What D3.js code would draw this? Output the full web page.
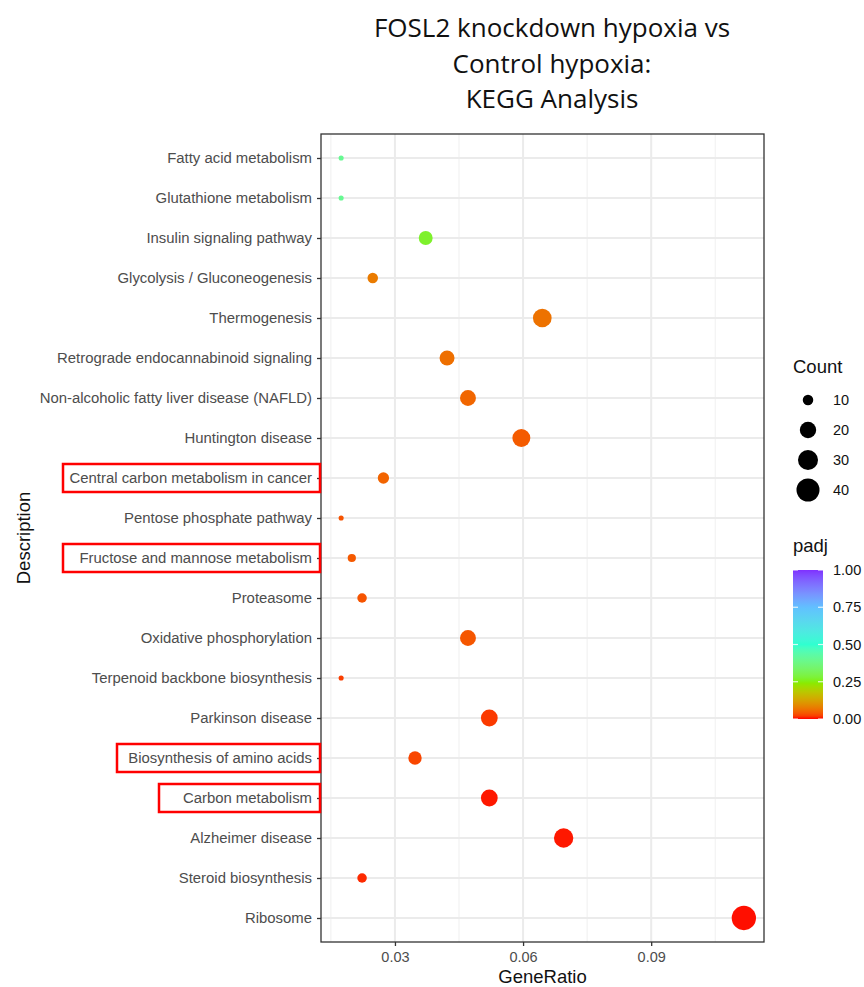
<!DOCTYPE html>
<html>
<head>
<meta charset="utf-8">
<script src="https://cdn.jsdelivr.net/npm/d3@7"></script>
<style>
  html, body { margin: 0; padding: 0; background: #fff; }
  svg { display: block; }
</style>
</head>
<body>
<svg id="chart" width="864" height="987"></svg>
<script>
// KEGG pathways, listed top to bottom as they appear on the y axis
const pathways = [
  "Fatty acid metabolism",
  "Glutathione metabolism",
  "Insulin signaling pathway",
  "Glycolysis / Gluconeogenesis",
  "Thermogenesis",
  "Retrograde endocannabinoid signaling",
  "Non-alcoholic fatty liver disease (NAFLD)",
  "Huntington disease",
  "Central carbon metabolism in cancer",
  "Pentose phosphate pathway",
  "Fructose and mannose metabolism",
  "Proteasome",
  "Oxidative phosphorylation",
  "Terpenoid backbone biosynthesis",
  "Parkinson disease",
  "Biosynthesis of amino acids",
  "Carbon metabolism",
  "Alzheimer disease",
  "Steroid biosynthesis",
  "Ribosome"
];
const geneRatio = [0.0174, 0.0174, 0.0372, 0.0248, 0.0645, 0.0422, 0.0471, 0.0596, 0.0273, 0.0174,
                   0.0199, 0.0223, 0.0471, 0.0174, 0.0521, 0.0347, 0.0521, 0.0695, 0.0223, 0.1117];
const geneCount = [7, 7, 15, 10, 26, 17, 19, 24, 11, 7,
                   8, 9, 19, 7, 21, 14, 21, 28, 9, 45];
const padj = [0.40, 0.40, 0.27, 0.075, 0.065, 0.062, 0.052, 0.042, 0.050, 0.035,
              0.040, 0.036, 0.038, 0.020, 0.018, 0.025, 0.004, 0.004, 0.010, 0.002];

// Pathways outlined in red
const highlighted = [
  "Central carbon metabolism in cancer",
  "Fructose and mannose metabolism",
  "Biosynthesis of amino acids",
  "Carbon metabolism"
];
// Left edge of each red outline (the outlines all end at the panel edge)
const outlineLeft = [63, 63, 117, 159];

const xTicks = [0.03, 0.06, 0.09];
const xMinor = [0.015, 0.045, 0.075, 0.105];
const countBreaks = [10, 20, 30, 40];
const padjBreaks = [0, 0.25, 0.5, 0.75, 1];
const padjStops = [0, 0.25, 0.5, 0.75, 1];
const padjColours = ["#ff0000", "#80f000", "#30ffd0", "#60c0ff", "#7f30ff"];

const titleLines = ["FOSL2 knockdown hypoxia vs", "Control hypoxia:", "KEGG Analysis"];

const rows = pathways.map((p, i) => ({
  name: p, ratio: geneRatio[i], count: geneCount[i], padj: padj[i]
}));

const svg = d3.select("#chart");
const panel = { left: 321, right: 764, top: 134, bottom: 942 };

// x: continuous with 5% expansion on each side
const [rMin, rMax] = d3.extent(geneRatio);
const pad = (rMax - rMin) * 0.05;
const x = d3.scaleLinear().domain([rMin - pad, rMax + pad]).range([panel.left, panel.right]);

// y: discrete with 0.6 unit expansion
const y = d3.scalePoint().domain(pathways).range([panel.top, panel.bottom]).padding(0.6);

// size: area scaled over the count range
const countArea = d3.scaleLinear().domain(d3.extent(geneCount)).range([0, 1]);
const sizeUnit = c => 1 + 5 * Math.sqrt(Math.max(0, countArea(c)));
const radius = c => (sizeUnit(c) * 2.845 + 0.945) * 1.35 / 2;

const colour = d3.scaleLinear().domain(padjStops).range(padjColours)
  .interpolate(d3.interpolateLab).clamp(true);

const textGrey = "#4d4d4d";
const axisFont = "'Liberation Sans', Arial, Helvetica, sans-serif";

// Title
svg.append("g").selectAll("text").data(titleLines).join("text")
  .attr("x", 552)
  .attr("y", (d, i) => 37 + i * 35.5)
  .attr("text-anchor", "middle")
  .attr("font-family", "'Open Sans', 'Noto Sans', sans-serif")
  .attr("font-size", 26)
  .attr("fill", "#111")
  .text(d => d);

// Grid
const grid = svg.append("g");
grid.selectAll("line.minor").data(xMinor).join("line")
  .attr("x1", d => x(d)).attr("x2", d => x(d))
  .attr("y1", panel.top).attr("y2", panel.bottom)
  .attr("stroke", "#f2f2f2").attr("stroke-width", 1.2);
grid.selectAll("line.vmajor").data(xTicks).join("line")
  .attr("x1", d => x(d)).attr("x2", d => x(d))
  .attr("y1", panel.top).attr("y2", panel.bottom)
  .attr("stroke", "#ebebeb").attr("stroke-width", 2);
grid.selectAll("line.hmajor").data(pathways).join("line")
  .attr("x1", panel.left).attr("x2", panel.right)
  .attr("y1", d => y(d)).attr("y2", d => y(d))
  .attr("stroke", "#ebebeb").attr("stroke-width", 2);

// Points
svg.append("g").selectAll("circle").data(rows).join("circle")
  .attr("cx", d => x(d.ratio))
  .attr("cy", d => y(d.name))
  .attr("r", d => radius(d.count))
  .attr("fill", d => colour(d.padj));

// Panel border
svg.append("rect")
  .attr("x", panel.left).attr("y", panel.top)
  .attr("width", panel.right - panel.left).attr("height", panel.bottom - panel.top)
  .attr("fill", "none").attr("stroke", "#333").attr("stroke-width", 1.3);

// Axes
const xAxis = svg.append("g")
  .attr("transform", `translate(0,${panel.bottom})`)
  .call(d3.axisBottom(x).tickValues(xTicks).tickFormat(d3.format(".2f")).tickSizeOuter(0).tickSize(4).tickPadding(6));
const yAxis = svg.append("g")
  .attr("transform", `translate(${panel.left},0)`)
  .call(d3.axisLeft(y).tickSizeOuter(0).tickSize(4).tickPadding(5));
[xAxis, yAxis].forEach(a => {
  a.select(".domain").remove();
  a.selectAll(".tick line").attr("stroke", "#333").attr("stroke-width", 1.3);
  a.selectAll(".tick text").attr("fill", textGrey).attr("font-family", axisFont);
});
xAxis.selectAll(".tick text").attr("font-size", 14.5);
yAxis.selectAll(".tick text").attr("font-size", 14.9);

// Red outlines around selected pathway labels
svg.append("g").selectAll("rect").data(highlighted).join("rect")
  .attr("x", (d, i) => outlineLeft[i])
  .attr("y", d => y(d) - 14)
  .attr("width", (d, i) => panel.left - 1 - outlineLeft[i])
  .attr("height", 28)
  .attr("fill", "none")
  .attr("stroke", "#ff0000")
  .attr("stroke-width", 2.5);

// Axis titles
svg.append("text")
  .attr("x", (panel.left + panel.right) / 2).attr("y", 983)
  .attr("text-anchor", "middle")
  .attr("font-family", axisFont).attr("font-size", 18.5).attr("fill", "#111")
  .text("GeneRatio");
svg.append("text")
  .attr("transform", `translate(30,${(panel.top + panel.bottom) / 2}) rotate(-90)`)
  .attr("text-anchor", "middle")
  .attr("font-family", axisFont).attr("font-size", 18.5).attr("fill", "#111")
  .text("Description");

// Count legend
const sizeLegend = svg.append("g");
sizeLegend.append("text")
  .attr("x", 793).attr("y", 373)
  .attr("font-family", axisFont).attr("font-size", 18.5).attr("fill", "#111")
  .text("Count");
const sizeItems = sizeLegend.selectAll("g.item").data(countBreaks).join("g")
  .attr("transform", (d, i) => `translate(0,${400 + i * 30})`);
sizeItems.append("circle")
  .attr("cx", 808).attr("cy", 0)
  .attr("r", d => radius(d)).attr("fill", "#000");
sizeItems.append("text")
  .attr("x", 833).attr("y", 0).attr("dy", "0.35em")
  .attr("font-family", axisFont).attr("font-size", 14.5).attr("fill", "#111")
  .text(d => d);

// padj colour bar
const bar = { x: 793, width: 30, top: 570, bottom: 719 };
const barY = d3.scaleLinear().domain([0, 1]).range([bar.bottom, bar.top]);
const defs = svg.append("defs");
const grad = defs.append("linearGradient")
  .attr("id", "padjGrad").attr("x1", 0).attr("y1", 1).attr("x2", 0).attr("y2", 0);
grad.selectAll("stop").data(d3.range(0, 1.0001, 0.02)).join("stop")
  .attr("offset", d => d).attr("stop-color", d => colour(d));
const colourLegend = svg.append("g");
colourLegend.append("text")
  .attr("x", 793).attr("y", 552)
  .attr("font-family", axisFont).attr("font-size", 18.5).attr("fill", "#111")
  .text("padj");
colourLegend.append("rect")
  .attr("x", bar.x).attr("y", bar.top)
  .attr("width", bar.width).attr("height", bar.bottom - bar.top)
  .attr("fill", "url(#padjGrad)");
padjBreaks.forEach(b => {
  const yy = barY(b);
  [[bar.x, bar.x + 5], [bar.x + bar.width - 5, bar.x + bar.width]].forEach(([a, c]) => {
    colourLegend.append("line")
      .attr("x1", a).attr("x2", c).attr("y1", yy).attr("y2", yy)
      .attr("stroke", "#fff").attr("stroke-width", 1.2).attr("opacity", 0.8);
  });
});
colourLegend.selectAll("text.lab").data(padjBreaks).join("text")
  .attr("class", "lab")
  .attr("x", 833).attr("y", d => barY(d)).attr("dy", "0.35em")
  .attr("font-family", axisFont).attr("font-size", 14.5).attr("fill", "#111")
  .text(d => d3.format(".2f")(d));
</script>
</body>
</html>
